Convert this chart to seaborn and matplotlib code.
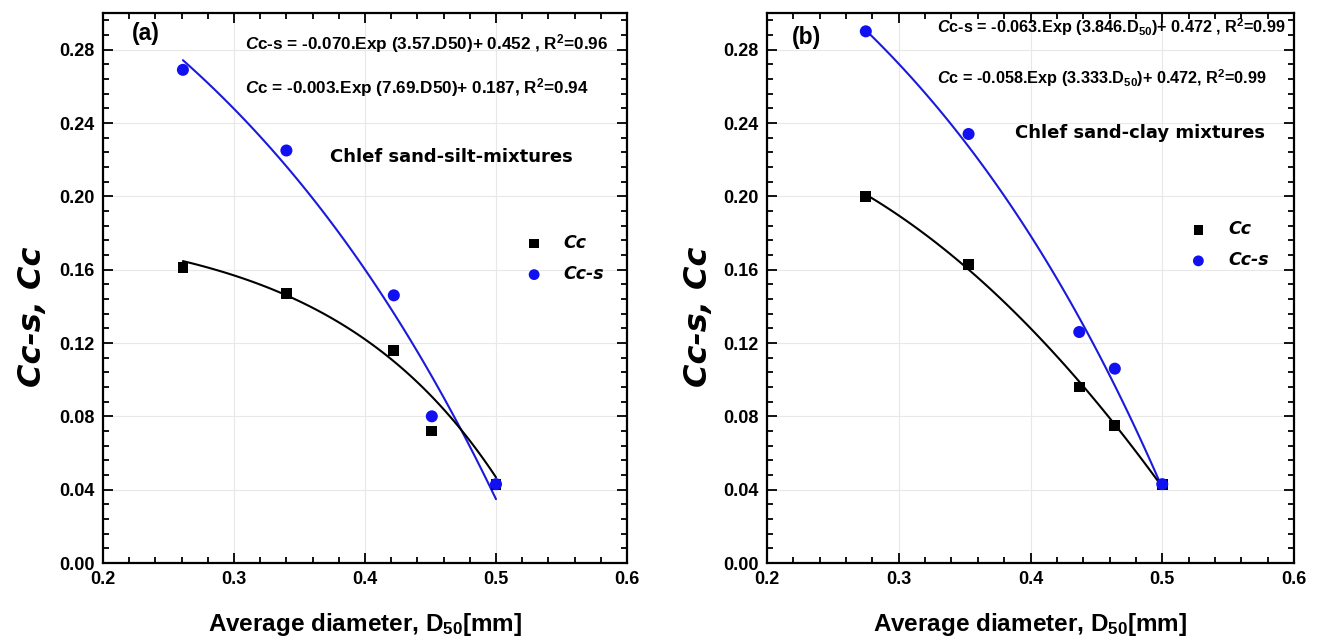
import numpy as np
import pandas as pd
import matplotlib
matplotlib.use("Agg")
import matplotlib.pyplot as plt
import seaborn as sns
from matplotlib.ticker import MultipleLocator

# ---------------- data ----------------
d50_a = [0.261, 0.340, 0.422, 0.451, 0.500]
cc_a = [0.161, 0.147, 0.116, 0.072, 0.043]
ccs_a = [0.269, 0.225, 0.146, 0.080, 0.043]

d50_b = [0.275, 0.353, 0.437, 0.464, 0.500]
cc_b = [0.200, 0.163, 0.096, 0.075, 0.043]
ccs_b = [0.290, 0.234, 0.126, 0.106, 0.043]

# fitted curve parameters (as printed on the chart): y = a*exp(b*x) + c
fit_ccs_a = (-0.070, 3.57, 0.452)
fit_cc_a = (-0.003, 7.69, 0.187)
fit_ccs_b = (-0.063, 3.846, 0.472)

x_ticks = [0.2, 0.3, 0.4, 0.5, 0.6]
y_ticks = [0.00, 0.04, 0.08, 0.12, 0.16, 0.20, 0.24, 0.28]

eq_a = [r"$\mathit{C}$c-s = -0.070.Exp (3.57.D50)+ 0.452 , R$^{2}$=0.96",
        r"$\mathit{C}$c = -0.003.Exp (7.69.D50)+ 0.187, R$^{2}$=0.94"]
eq_b = [r"$\mathit{C}$c-s = -0.063.Exp (3.846.D$_{50}$)+ 0.472 , R$^{2}$=0.99",
        r"$\mathit{C}$c = -0.058.Exp (3.333.D$_{50}$)+ 0.472, R$^{2}$=0.99"]
label_a = "Chlef sand-silt-mixtures"
label_b = "Chlef sand-clay mixtures"

# ---------------- style ----------------
sns.set_style("ticks")
plt.rcParams["font.family"] = ["Liberation Sans", "DejaVu Sans"]
plt.rcParams["mathtext.fontset"] = "custom"
plt.rcParams["mathtext.rm"] = "Liberation Sans:bold"
plt.rcParams["mathtext.it"] = "Liberation Sans:italic:bold"
plt.rcParams["mathtext.bf"] = "Liberation Sans:bold"
for k in ["text.color", "axes.labelcolor", "xtick.color", "ytick.color", "axes.edgecolor"]:
    plt.rcParams[k] = "black"

BLUE = "#1a1adb"
fig = plt.figure(figsize=(13.22, 6.42), dpi=100)
ax_a = fig.add_axes([103 / 1322, 79 / 642, 524 / 1322, 550 / 642])
ax_b = fig.add_axes([767 / 1322, 79 / 642, 527 / 1322, 550 / 642])


def curve_df(x0, x1, params):
    a, b, c = params
    xs = np.linspace(x0, x1, 100)
    return pd.DataFrame({"x": xs, "y": a * np.exp(b * xs) + c})


def draw(ax, d50, cc, ccs, fit_ccs, fit_cc, tag, tag_xy, eqs, eq_xy, eq_size,
         label, lab_xy, leg_anchor, ylab_x):
    dfc = curve_df(min(d50), max(d50), fit_ccs)
    sns.lineplot(data=dfc, x="x", y="y", ax=ax, color=BLUE, lw=1.5, zorder=2)
    if fit_cc is not None:
        dfk = curve_df(min(d50), max(d50), fit_cc)
    else:
        p = np.polyfit(d50, cc, 2)
        xs = np.linspace(min(d50), max(d50), 100)
        dfk = pd.DataFrame({"x": xs, "y": np.polyval(p, xs)})
    sns.lineplot(data=dfk, x="x", y="y", ax=ax, color="black", lw=1.5, zorder=2)

    df = pd.DataFrame({"d50": d50, "Cc": cc, "Ccs": ccs})
    sns.scatterplot(data=df, x="d50", y="Cc", ax=ax, marker="s", color="black",
                    s=60, edgecolor="none", label="Cc", zorder=3)
    sns.scatterplot(data=df, x="d50", y="Ccs", ax=ax, marker="o", color="#1010f0",
                    s=75, edgecolor="none", label="Cc-s", zorder=3)

    ax.set_xlim(0.2, 0.6)
    ax.set_ylim(0.0, 0.30)
    ax.set_xticks(x_ticks)
    ax.set_yticks(y_ticks)
    ax.set_xticklabels([f"{v:.1f}" for v in x_ticks])
    ax.set_yticklabels([f"{v:.2f}" for v in y_ticks])
    ax.xaxis.set_minor_locator(MultipleLocator(0.02))
    ax.yaxis.set_minor_locator(MultipleLocator(0.008))
    ax.tick_params(which="both", direction="in", top=True, right=True, width=1.3)
    ax.tick_params(which="major", length=7, labelsize=13, pad=6)
    ax.tick_params(which="minor", length=4)
    for t in ax.get_xticklabels() + ax.get_yticklabels():
        t.set_fontweight("bold")
    for sp in ax.spines.values():
        sp.set_linewidth(1.6)
        sp.set_visible(True)
    ax.grid(True, which="major", color="#e8e8e8", lw=0.8, zorder=0)
    ax.set_axisbelow(True)

    ax.set_xlabel(r"Average diameter, D$_{50}$[mm]", fontsize=17.5, fontweight="bold", labelpad=16)
    ax.set_ylabel("Cc-s, Cc", fontsize=23, fontweight="bold", fontstyle="italic",
                  family=["DejaVu Sans"])
    ax.yaxis.set_label_coords(ylab_x, 0.447)

    ax.text(tag_xy[0], tag_xy[1], tag, transform=ax.transAxes, fontsize=16.5, fontweight="bold",
            ha="left", va="center")
    for eq, y in zip(eqs, eq_xy[1]):
        ax.text(eq_xy[0], y, eq, transform=ax.transAxes, fontsize=eq_size,
                fontweight="bold", ha="left", va="center")
    ax.text(lab_xy[0], lab_xy[1], label, transform=ax.transAxes, fontsize=13,
            fontweight="bold", family=["DejaVu Sans"], ha="center", va="center")

    ax.legend(loc="upper left", bbox_to_anchor=leg_anchor, frameon=False,
              prop={"family": "DejaVu Sans", "weight": "bold", "style": "italic", "size": 12.5},
              handlelength=1.0, handletextpad=1.2, labelspacing=0.75, markerscale=0.9,
              borderpad=0.2)


draw(ax_a, d50_a, cc_a, ccs_a, fit_ccs_a, fit_cc_a, "(a)", (0.055, 0.962),
     eq_a, (0.271, (0.945, 0.864)), 12.3,
     label_a, (0.665, 0.738), (0.783, 0.62), -0.105)
draw(ax_b, d50_b, cc_b, ccs_b, fit_ccs_b, None, "(b)", (0.047, 0.956),
     eq_b, (0.323, (0.975, 0.882)), 11.7,
     label_b, (0.708, 0.782), (0.779, 0.645), -0.101)

fig.savefig("out.png", dpi=100)
